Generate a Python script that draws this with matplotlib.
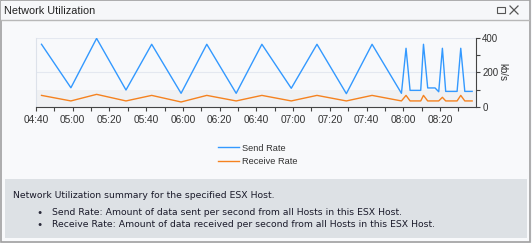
import matplotlib
matplotlib.use("Agg")
import matplotlib.pyplot as plt
import matplotlib.dates as mdates
from matplotlib.patches import Rectangle
from matplotlib.lines import Line2D
import datetime as dt

# ---- data ----
send_minutes = [3, 19, 33, 49, 63, 79, 93, 109, 123, 139, 153, 169, 183, 199,
                201.5, 203.7, 209.5, 211, 213.3, 217.3, 219.3, 221.3, 223.1, 229.3, 231.3, 233.5, 237.5]
send_rate = [362, 111, 396, 98, 362, 79, 362, 79, 362, 108, 362, 77, 362, 79,
             339, 96, 96, 362, 110, 110, 88, 339, 90, 90, 339, 90, 90]
recv_minutes = [3, 19, 33, 49, 63, 79, 93, 109, 123, 139, 153, 169, 183, 199,
                201.5, 203.7, 209.5, 211, 213.3, 219.3, 221.3, 223.1, 229.3, 231.3, 233.5, 237.5]
recv_rate = [67, 35, 73, 35, 67, 29, 67, 35, 67, 35, 67, 35, 67, 35,
             67, 35, 35, 67, 35, 35, 56, 35, 35, 67, 35, 35]
y_ticks = [0, 200, 400]
series_names = ["Send Rate", "Receive Rate"]
title = "Network Utilization"
desc_lines = ["Network Utilization summary for the specified ESX Host.",
              "Send Rate: Amount of data sent per second from all Hosts in this ESX Host.",
              "Receive Rate: Amount of data received per second from all Hosts in this ESX Host."]

start = dt.datetime(2020, 1, 1, 4, 40)
send_t = [start + dt.timedelta(minutes=m) for m in send_minutes]
recv_t = [start + dt.timedelta(minutes=m) for m in recv_minutes]

W, H = 532, 243
plt.rcParams['font.family'] = ['Liberation Sans', 'DejaVu Sans']
fig = plt.figure(figsize=(W / 100, H / 100), dpi=100)
fig.patch.set_facecolor("#f8f9fb")

def px(x, y, w, h, **kw):
    r = Rectangle((x / W, 1 - (y + h) / H), w / W, h / H, transform=fig.transFigure, zorder=-5, **kw)
    fig.patches.append(r)

# window frame
px(0.5, 0.5, 529, 241, facecolor="#f8f9fb", edgecolor="#a0a0a0", lw=1.2)
px(1, 1, 528, 19, facecolor="#f6f7f9", edgecolor="none")
fig.lines.append(Line2D([1 / W, 529 / W], [1 - 20 / H, 1 - 20 / H], transform=fig.transFigure,
                        color="#b8b8b8", lw=1))
fig.text(4 / W, 1 - 11 / H, title, fontsize=7.8, color="#222222", va="center", ha="left")
# window icons
px(497, 7, 8, 6, facecolor="none", edgecolor="#555555", lw=0.8)
fig.lines.append(Line2D([510 / W, 518 / W], [1 - 6 / H, 1 - 14 / H], transform=fig.transFigure, color="#555555", lw=0.9))
fig.lines.append(Line2D([510 / W, 518 / W], [1 - 14 / H, 1 - 6 / H], transform=fig.transFigure, color="#555555", lw=0.9))

# description box
px(5, 179, 522, 59, facecolor="#dde1e5", edgecolor="none")
fig.text(13 / W, 1 - 195 / H, desc_lines[0], fontsize=6.7, color="#1a1a2a", va="center",
         family=['DejaVu Sans'])
for i, line in enumerate(desc_lines[1:]):
    yy = 212 + i * 12.5
    fig.text(40 / W, 1 - yy / H, "\u25cf", fontsize=5, color="#2a2a3a", va="center", ha="center")
    fig.text(52 / W, 1 - yy / H, line, fontsize=6.7, color="#1a1a2a", va="center",
             family=['DejaVu Sans'])

# chart axes
ax = fig.add_axes([36 / W, 1 - 107 / H, (476 - 36) / W, (107 - 37.7) / H])
ax.set_zorder(5)
ax.set_facecolor("#f8f9fb")
ax.axhspan(0, 100, color="#f0f1f3", zorder=0, lw=0)
for yv in (200, 400):
    ax.axhline(yv, color="#e4e8f0", lw=0.8, zorder=1)
ax.plot(send_t, send_rate, color="#3399ff", lw=1.0, zorder=3, label=series_names[0])
ax.plot(recv_t, recv_rate, color="#f5821f", lw=1.0, zorder=3, label=series_names[1])

ax.set_xlim(start, start + dt.timedelta(minutes=239.6))
ax.set_ylim(0, 400)
ax.xaxis.set_major_locator(mdates.MinuteLocator(byminute=[0, 20, 40]))
ax.xaxis.set_minor_locator(mdates.MinuteLocator(byminute=[10, 30, 50]))
ax.xaxis.set_major_formatter(mdates.DateFormatter("%H:%M"))
ax.yaxis.tick_right()
ax.set_yticks(y_ticks)
ax.set_yticks([100, 300], minor=True)
ax.tick_params(axis="x", which="both", direction="out", length=3, width=0.8, color="#444444",
               labelsize=7.3, labelcolor="#333333", pad=3)
ax.tick_params(axis="y", which="both", direction="out", length=3, width=0.8, color="#444444",
               labelsize=7.0, labelcolor="#333333", pad=1.5)
ax.text((502 - 36) / 440, 0.51, "kb/s", transform=ax.transAxes, rotation=270,
        ha="center", va="center", fontsize=7, color="#333333")
ax.spines["top"].set_visible(False)
ax.spines["left"].set_color("#dde2ea")
ax.spines["left"].set_linewidth(0.8)
ax.spines["bottom"].set_color("#444444")
ax.spines["bottom"].set_linewidth(0.8)
ax.spines["right"].set_color("#444444")
ax.spines["right"].set_linewidth(0.8)

leg = fig.legend(loc="center", bbox_to_anchor=(258 / W, 1 - 155 / H), frameon=False,
                 fontsize=6.7, handlelength=2.2, handletextpad=0.4, labelspacing=0.5, ncol=1)
for t in leg.get_texts():
    t.set_color("#333333")

fig.savefig("out.png", dpi=100, facecolor=fig.get_facecolor())
